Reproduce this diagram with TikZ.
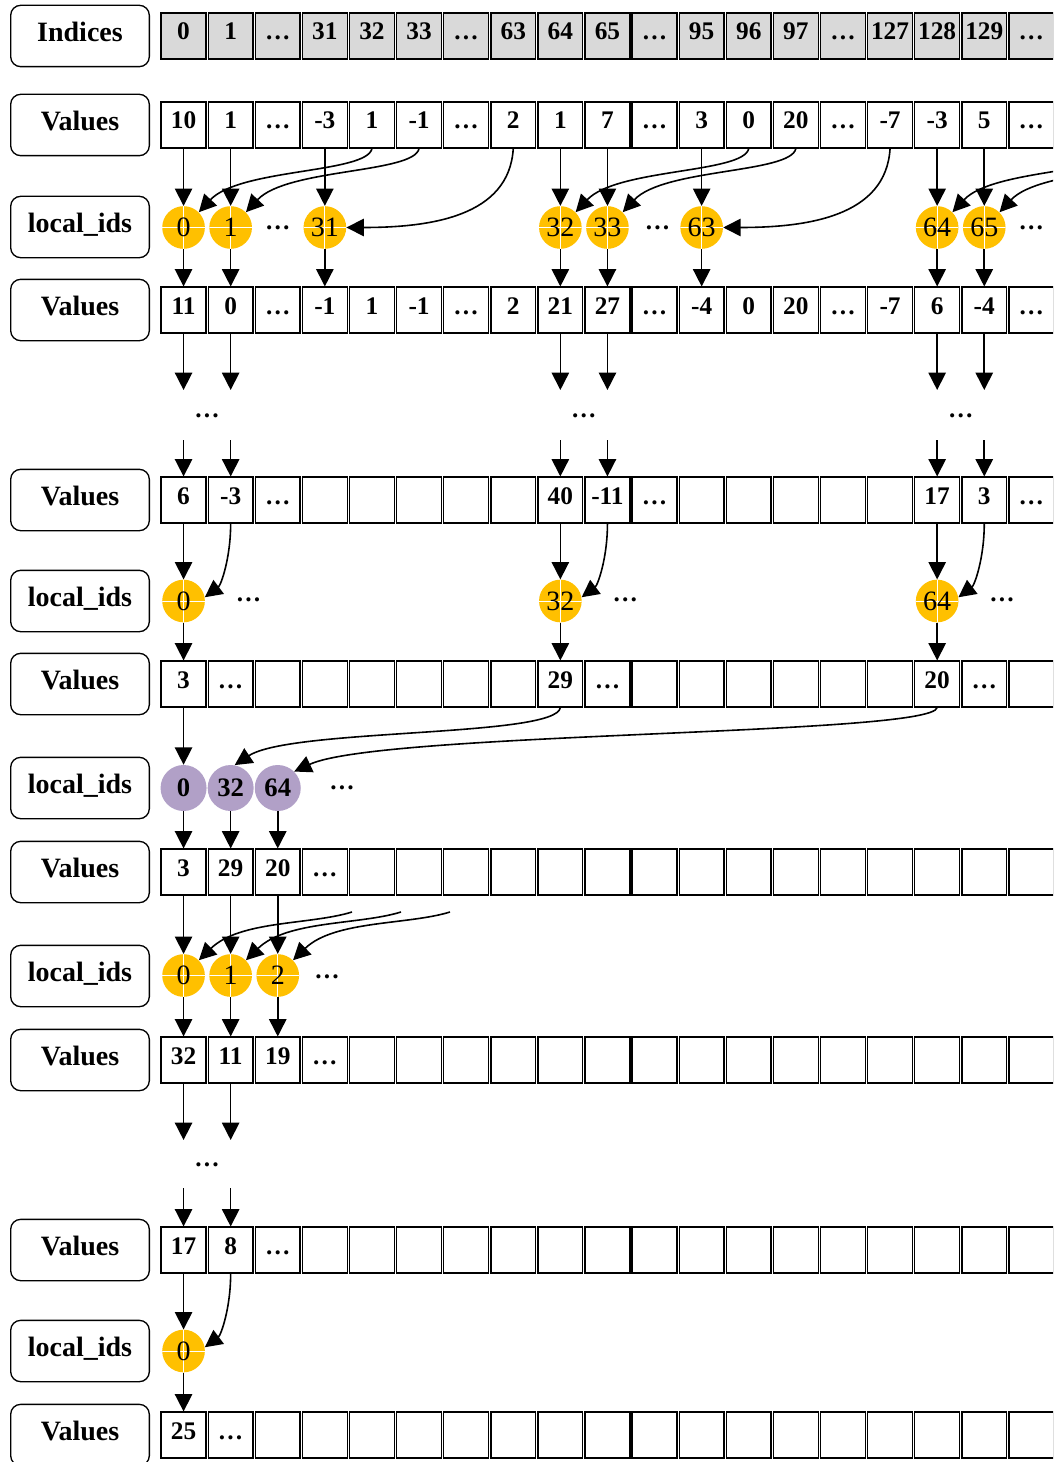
\documentclass[tikz,border=0pt]{standalone}
\usepackage{fontspec}
\setmainfont{Liberation Serif}
\usetikzlibrary{arrows.meta,calc}
\definecolor{gold}{HTML}{FFC000}
\definecolor{lilac}{HTML}{B1A0C7}
\definecolor{idxgray}{HTML}{D9D9D9}
% horizontal centre of array column #1
\pgfmathdeclarefunction{colx}{1}{\pgfmathparse{160+47.1*(#1+0.5)}}
\tikzset{
  cellbox/.style={draw, line width=1.1pt, minimum width=33.6pt, minimum height=34.2pt,
    inner sep=0pt, text height=6pt, text depth=0pt,
    font=\fontsize{19}{19}\selectfont\bfseries},
  idxbox/.style={cellbox, fill=idxgray},
  rowlabel/.style={draw, line width=1pt, rounded corners=7.5pt, minimum width=104pt,
    minimum height=46pt, inner sep=0pt, text height=10pt, text depth=1.5pt,
    font=\fontsize{21}{21}\selectfont\bfseries},
  goldbub/.style={circle, fill=gold, minimum size=32pt, inner sep=0pt,
    font=\fontsize{21}{21}\selectfont,
    path picture={\draw[white, line width=0.7pt]
      (path picture bounding box.west) -- (path picture bounding box.east)
      (path picture bounding box.north) -- (path picture bounding box.south);}},
  lilacbub/.style={circle, fill=lilac, minimum size=34.5pt, inner sep=0pt,
    font=\fontsize{20}{20}\selectfont\bfseries},
  ell/.style={font=\fontsize{19}{19}\selectfont\bfseries, inner sep=0pt},
  arr/.style={line width=1.2pt, -{Triangle[length=13pt,width=13pt]}},
}
% one row of array cells: name, y centre, style, contents
\newcommand{\cellrow}[4]{%
  \foreach \cellval [count=\ci from 0] in {#4} {
    \node[#3] (#1c\ci) at ({colx(\ci)},#2) {\cellval};
  }}
\begin{document}
\begin{tikzpicture}[x=0.75pt, y=-0.75pt]
\useasboundingbox (0,0) rectangle (1053,1462);
\clip (0,0) rectangle (1053,1462);

% row labels
\foreach \yy/\txt [count=\nn] in {36/Indices, 125/Values, 227/local\_ids, 310/Values,
    500/Values, 601/local\_ids, 684/Values, 788/local\_ids, 872/Values,
    976/local\_ids, 1060/Values, 1250/Values, 1351/local\_ids, 1435/Values}
  \node[rowlabel] (lab\nn) at (80,\yy) {\txt};

% arrays
\cellrow{r0}{36}{idxbox}{0,1,\dots,31,32,33,\dots,63,64,65,\dots,95,96,97,\dots,127,128,129,\dots}
\cellrow{r1}{125}{cellbox}{10,1,\dots,-3,1,-1,\dots,2,1,7,\dots,3,0,20,\dots,-7,-3,5,\dots}
\cellrow{r2}{310}{cellbox}{11,0,\dots,-1,1,-1,\dots,2,21,27,\dots,-4,0,20,\dots,-7,6,-4,\dots}
\cellrow{r3}{500}{cellbox}{6,-3,\dots,{},{},{},{},{},40,-11,\dots,{},{},{},{},{},17,3,\dots}
\cellrow{r4}{684}{cellbox}{3,\dots,{},{},{},{},{},{},29,\dots,{},{},{},{},{},{},20,\dots,{}}
\cellrow{r5}{872}{cellbox}{3,29,20,\dots,{},{},{},{},{},{},{},{},{},{},{},{},{},{},{}}
\cellrow{r6}{1060}{cellbox}{32,11,19,\dots,{},{},{},{},{},{},{},{},{},{},{},{},{},{},{}}
\cellrow{r7}{1250}{cellbox}{17,8,\dots,{},{},{},{},{},{},{},{},{},{},{},{},{},{},{},{}}
\cellrow{r8}{1435}{cellbox}{25,\dots,{},{},{},{},{},{},{},{},{},{},{},{},{},{},{},{},{}}

% first local_ids row
\foreach \cc/\lb in {0/0,1/1,3/31,8/32,9/33,11/63,16/64,17/65} {
  \node[goldbub] (k1n\lb) at ({colx(\cc)},227.5) {\lb};
}
\node[ell] (k1d0) at ({colx(2)},228) {\dots};
\node[ell] (k1d1) at ({colx(10)+3},228) {\dots};
\node[ell] (k1d2) at ({colx(18)},228) {\dots};
\foreach \cc/\lb in {0/0,1/1,3/31,8/32,9/33,11/63,16/64,17/65} {
  \draw[arr] (r1c\cc.south) -- (k1n\lb.north);
  \draw[arr] (k1n\lb.south) -- (r2c\cc.north);
}
\coordinate (r1x20) at ({colx(20)},148);
\coordinate (r1x21) at ({colx(21)},148);
\foreach \src/\lb in {r1c4/0,r1c5/1,r1c12/32,r1c13/33} {
  \draw[arr] (\src.south) .. controls ($(\src.south)+(-5,25)$) and ($(k1n\lb.45)+(41,-44)$) .. (k1n\lb.45);
}
\foreach \src/\lb in {r1x20/64,r1x21/65} {
  \draw[arr] (\src) .. controls ($(\src)+(-5,25)$) and ($(k1n\lb.45)+(41,-44)$) .. (k1n\lb.45);
}
\foreach \cc/\lb in {7/31,15/63} {
  \draw[arr] (r1c\cc.south) .. controls ($(r1c\cc.south)+(-4,68)$) and ($(k1n\lb.east)+(84,0)$) .. (k1n\lb.east);
}

% skipped rounds
\foreach \cc in {0,1,8,9,16,17} {
  \coordinate (ma\cc) at ({colx(\cc)},390);
  \coordinate (mb\cc) at ({colx(\cc)},440);
  \draw[arr] (r2c\cc.south) -- (ma\cc);
  \draw[arr] (mb\cc) -- (r3c\cc.north);
}
\node[ell] (md0) at ({160+47.1*1},416) {\dots};
\node[ell] (md1) at ({160+47.1*9},416) {\dots};
\node[ell] (md2) at ({160+47.1*17},416) {\dots};

% second local_ids row
\foreach \cc/\lb in {0/0,8/32,16/64} {
  \node[goldbub] (k2n\lb) at ({colx(\cc)},601) {\lb};
  \node[ell] (k2d\lb) at ({colx(\cc)+65},600) {\dots};
  \pgfmathtruncatemacro\nx{\cc+1}
  \draw[arr] (r3c\cc.south) -- (k2n\lb.north);
  \draw[arr] (r3c\nx.south) .. controls ($(r3c\nx.south)+(0,35)$) and ($(k2n\lb.10)+(16,-12)$) .. (k2n\lb.10);
  \draw[arr] (k2n\lb.south) -- (r4c\cc.north);
}

% gathered local_ids row
\foreach \cc/\lb in {0/0,1/32,2/64} {
  \node[lilacbub] (pn\lb) at ({colx(\cc)},788) {\lb};
}
\node[ell] (pdots) at (342,788) {\dots};
\draw[arr] (r4c0.south) -- (pn0.north);
\draw[arr] (r4c8.south) .. controls ($(r4c8.south)+(-4,30)$) and ($(pn32.80)+(56,-37)$) .. (pn32.80);
\draw[arr] (r4c16.south) .. controls ($(r4c16.south)+(-5,28)$) and ($(pn64.45)+(86,-40)$) .. (pn64.45);
\foreach \cc/\lb in {0/0,1/32,2/64} {
  \draw[arr] (pn\lb.south) -- (r5c\cc.north);
}

% third local_ids row
\foreach \cc in {0,1,2} {
  \node[goldbub] (k4n\cc) at ({colx(\cc)},975.5) {\cc};
  \draw[arr] (r5c\cc.south) -- (k4n\cc.north);
  \draw[arr] (k4n\cc.south) -- (r6c\cc.north);
}
\node[ell] (k4d) at (327,977) {\dots};
\foreach \cc/\fx in {0/352,1/401,2/450} {
  \coordinate (fs\cc) at (\fx,912);
  \draw[arr] (fs\cc) .. controls ($(fs\cc)+(-42,13)$) and ($(k4n\cc.45)+(41,-40)$) .. (k4n\cc.45);
}

% skipped rounds
\foreach \cc in {0,1} {
  \coordinate (mc\cc) at ({colx(\cc)},1140);
  \coordinate (me\cc) at ({colx(\cc)},1188);
  \draw[arr] (r6c\cc.south) -- (mc\cc);
  \draw[arr] (me\cc) -- (r7c\cc.north);
}
\node[ell] (md3) at ({160+47.1*1},1165) {\dots};

% last local_ids row
\node[goldbub] (k5n0) at ({colx(0)},1351) {0};
\draw[arr] (r7c0.south) -- (k5n0.north);
\draw[arr] (r7c1.south) .. controls ($(r7c1.south)+(0,35)$) and ($(k5n0.10)+(16,-12)$) .. (k5n0.10);
\draw[arr] (k5n0.south) -- (r8c0.north);
\end{tikzpicture}
\end{document}
